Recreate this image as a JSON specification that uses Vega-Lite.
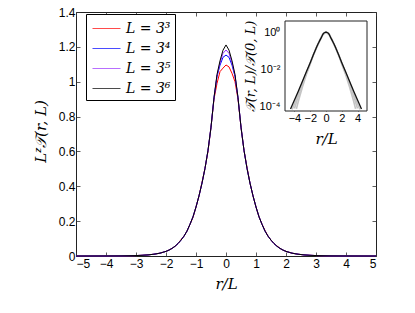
{
"$schema": "https://vega.github.io/schema/vega-lite/v6.json",
"width": 300, "height": 244,
"autosize": {"type": "none"},
"padding": {"left": 76, "top": 12, "right": 39, "bottom": 57},
"background": "white",
"config": {
 "view": {"stroke": "#222", "strokeWidth": 1},
 "axis": {"grid": false, "domain": false, "labelFont": "Liberation Sans", "labelFontSize": 12, "labelColor": "black", "tickColor": "#333", "tickWidth": 0.8, "titleFont": "DejaVu Serif", "titleFontStyle": "italic", "titleFontWeight": "normal", "titleFontSize": 15, "titleColor": "black"},
 "legend": {"labelFont": "DejaVu Serif", "labelFontStyle": "italic", "labelFontSize": 14, "labelColor": "black"}
},
"datasets": {
 "main": [
  {"L":"3³","r":-5,"v":0},{"L":"3³","r":-4.5,"v":0.0001},{"L":"3³","r":-4,"v":0.0003},{"L":"3³","r":-3.5,"v":0.0008},{"L":"3³","r":-3,"v":0.0025},{"L":"3³","r":-2.8,"v":0.004},{"L":"3³","r":-2.6,"v":0.0064},{"L":"3³","r":-2.4,"v":0.0103},{"L":"3³","r":-2.2,"v":0.0163},{"L":"3³","r":-2,"v":0.0266},{"L":"3³","r":-1.9,"v":0.0339},{"L":"3³","r":-1.8,"v":0.0436},{"L":"3³","r":-1.7,"v":0.0557},{"L":"3³","r":-1.6,"v":0.0714},{"L":"3³","r":-1.5,"v":0.094},{"L":"3³","r":-1.4,"v":0.114},{"L":"3³","r":-1.3,"v":0.143},{"L":"3³","r":-1.2,"v":0.182},{"L":"3³","r":-1.1,"v":0.221},{"L":"3³","r":-1,"v":0.281},{"L":"3³","r":-0.9,"v":0.345},{"L":"3³","r":-0.8,"v":0.423},{"L":"3³","r":-0.7,"v":0.503},{"L":"3³","r":-0.6,"v":0.6},{"L":"3³","r":-0.5,"v":0.739},{"L":"3³","r":-0.4,"v":0.9},{"L":"3³","r":-0.3,"v":0.99},{"L":"3³","r":-0.2,"v":1.058},{"L":"3³","r":-0.1,"v":1.078},{"L":"3³","r":0,"v":1.096},{"L":"3³","r":0.1,"v":1.085},{"L":"3³","r":0.2,"v":1.048},{"L":"3³","r":0.3,"v":1.0},{"L":"3³","r":0.4,"v":0.9},{"L":"3³","r":0.5,"v":0.739},{"L":"3³","r":0.6,"v":0.606},{"L":"3³","r":0.7,"v":0.509},{"L":"3³","r":0.8,"v":0.418},{"L":"3³","r":0.9,"v":0.345},{"L":"3³","r":1,"v":0.281},{"L":"3³","r":1.1,"v":0.225},{"L":"3³","r":1.2,"v":0.182},{"L":"3³","r":1.3,"v":0.147},{"L":"3³","r":1.4,"v":0.114},{"L":"3³","r":1.5,"v":0.091},{"L":"3³","r":1.6,"v":0.0714},{"L":"3³","r":1.7,"v":0.058},{"L":"3³","r":1.8,"v":0.0436},{"L":"3³","r":1.9,"v":0.0339},{"L":"3³","r":2,"v":0.0266},{"L":"3³","r":2.2,"v":0.0163},{"L":"3³","r":2.4,"v":0.0103},{"L":"3³","r":2.6,"v":0.0064},{"L":"3³","r":2.8,"v":0.004},{"L":"3³","r":3,"v":0.0025},{"L":"3³","r":3.5,"v":0.0008},{"L":"3³","r":4,"v":0.0003},{"L":"3³","r":4.5,"v":0.0001},{"L":"3³","r":5,"v":0},
  {"L":"3⁴","r":-5,"v":0},{"L":"3⁴","r":-4.5,"v":0.0001},{"L":"3⁴","r":-4,"v":0.0003},{"L":"3⁴","r":-3.5,"v":0.0008},{"L":"3⁴","r":-3,"v":0.0025},{"L":"3⁴","r":-2.8,"v":0.004},{"L":"3⁴","r":-2.6,"v":0.0064},{"L":"3⁴","r":-2.4,"v":0.0103},{"L":"3⁴","r":-2.2,"v":0.0163},{"L":"3⁴","r":-2,"v":0.0266},{"L":"3⁴","r":-1.9,"v":0.0339},{"L":"3⁴","r":-1.8,"v":0.0436},{"L":"3⁴","r":-1.7,"v":0.0557},{"L":"3⁴","r":-1.6,"v":0.0714},{"L":"3⁴","r":-1.5,"v":0.091},{"L":"3⁴","r":-1.4,"v":0.114},{"L":"3⁴","r":-1.3,"v":0.143},{"L":"3⁴","r":-1.2,"v":0.182},{"L":"3⁴","r":-1.1,"v":0.225},{"L":"3⁴","r":-1,"v":0.281},{"L":"3⁴","r":-0.9,"v":0.345},{"L":"3⁴","r":-0.8,"v":0.418},{"L":"3⁴","r":-0.7,"v":0.503},{"L":"3⁴","r":-0.6,"v":0.606},{"L":"3⁴","r":-0.5,"v":0.739},{"L":"3⁴","r":-0.4,"v":0.908},{"L":"3⁴","r":-0.3,"v":1.03},{"L":"3⁴","r":-0.2,"v":1.095},{"L":"3⁴","r":-0.1,"v":1.14},{"L":"3⁴","r":0,"v":1.153},{"L":"3⁴","r":0.1,"v":1.14},{"L":"3⁴","r":0.2,"v":1.095},{"L":"3⁴","r":0.3,"v":1.03},{"L":"3⁴","r":0.4,"v":0.908},{"L":"3⁴","r":0.5,"v":0.739},{"L":"3⁴","r":0.6,"v":0.606},{"L":"3⁴","r":0.7,"v":0.503},{"L":"3⁴","r":0.8,"v":0.418},{"L":"3⁴","r":0.9,"v":0.345},{"L":"3⁴","r":1,"v":0.281},{"L":"3⁴","r":1.1,"v":0.225},{"L":"3⁴","r":1.2,"v":0.182},{"L":"3⁴","r":1.3,"v":0.143},{"L":"3⁴","r":1.4,"v":0.114},{"L":"3⁴","r":1.5,"v":0.091},{"L":"3⁴","r":1.6,"v":0.0714},{"L":"3⁴","r":1.7,"v":0.0557},{"L":"3⁴","r":1.8,"v":0.0436},{"L":"3⁴","r":1.9,"v":0.0339},{"L":"3⁴","r":2,"v":0.0266},{"L":"3⁴","r":2.2,"v":0.0163},{"L":"3⁴","r":2.4,"v":0.0103},{"L":"3⁴","r":2.6,"v":0.0064},{"L":"3⁴","r":2.8,"v":0.004},{"L":"3⁴","r":3,"v":0.0025},{"L":"3⁴","r":3.5,"v":0.0008},{"L":"3⁴","r":4,"v":0.0003},{"L":"3⁴","r":4.5,"v":0.0001},{"L":"3⁴","r":5,"v":0},
  {"L":"3⁵","r":-5,"v":0},{"L":"3⁵","r":-4.5,"v":0.0001},{"L":"3⁵","r":-4,"v":0.0003},{"L":"3⁵","r":-3.5,"v":0.0008},{"L":"3⁵","r":-3,"v":0.0025},{"L":"3⁵","r":-2.8,"v":0.004},{"L":"3⁵","r":-2.6,"v":0.0064},{"L":"3⁵","r":-2.4,"v":0.0103},{"L":"3⁵","r":-2.2,"v":0.0163},{"L":"3⁵","r":-2,"v":0.0266},{"L":"3⁵","r":-1.9,"v":0.0339},{"L":"3⁵","r":-1.8,"v":0.0436},{"L":"3⁵","r":-1.7,"v":0.0557},{"L":"3⁵","r":-1.6,"v":0.0714},{"L":"3⁵","r":-1.5,"v":0.091},{"L":"3⁵","r":-1.4,"v":0.114},{"L":"3⁵","r":-1.3,"v":0.143},{"L":"3⁵","r":-1.2,"v":0.182},{"L":"3⁵","r":-1.1,"v":0.225},{"L":"3⁵","r":-1,"v":0.281},{"L":"3⁵","r":-0.9,"v":0.345},{"L":"3⁵","r":-0.8,"v":0.418},{"L":"3⁵","r":-0.7,"v":0.503},{"L":"3⁵","r":-0.6,"v":0.606},{"L":"3⁵","r":-0.5,"v":0.739},{"L":"3⁵","r":-0.4,"v":0.908},{"L":"3⁵","r":-0.3,"v":1.036},{"L":"3⁵","r":-0.2,"v":1.108},{"L":"3⁵","r":-0.1,"v":1.163},{"L":"3⁵","r":0,"v":1.182},{"L":"3⁵","r":0.1,"v":1.163},{"L":"3⁵","r":0.2,"v":1.108},{"L":"3⁵","r":0.3,"v":1.036},{"L":"3⁵","r":0.4,"v":0.908},{"L":"3⁵","r":0.5,"v":0.739},{"L":"3⁵","r":0.6,"v":0.606},{"L":"3⁵","r":0.7,"v":0.503},{"L":"3⁵","r":0.8,"v":0.418},{"L":"3⁵","r":0.9,"v":0.345},{"L":"3⁵","r":1,"v":0.281},{"L":"3⁵","r":1.1,"v":0.225},{"L":"3⁵","r":1.2,"v":0.182},{"L":"3⁵","r":1.3,"v":0.143},{"L":"3⁵","r":1.4,"v":0.114},{"L":"3⁵","r":1.5,"v":0.091},{"L":"3⁵","r":1.6,"v":0.0714},{"L":"3⁵","r":1.7,"v":0.0557},{"L":"3⁵","r":1.8,"v":0.0436},{"L":"3⁵","r":1.9,"v":0.0339},{"L":"3⁵","r":2,"v":0.0266},{"L":"3⁵","r":2.2,"v":0.0163},{"L":"3⁵","r":2.4,"v":0.0103},{"L":"3⁵","r":2.6,"v":0.0064},{"L":"3⁵","r":2.8,"v":0.004},{"L":"3⁵","r":3,"v":0.0025},{"L":"3⁵","r":3.5,"v":0.0008},{"L":"3⁵","r":4,"v":0.0003},{"L":"3⁵","r":4.5,"v":0.0001},{"L":"3⁵","r":5,"v":0},
  {"L":"3⁶","r":-5,"v":0},{"L":"3⁶","r":-4.5,"v":0.0001},{"L":"3⁶","r":-4,"v":0.0003},{"L":"3⁶","r":-3.5,"v":0.0008},{"L":"3⁶","r":-3,"v":0.0025},{"L":"3⁶","r":-2.8,"v":0.004},{"L":"3⁶","r":-2.6,"v":0.0064},{"L":"3⁶","r":-2.4,"v":0.0103},{"L":"3⁶","r":-2.2,"v":0.0163},{"L":"3⁶","r":-2,"v":0.0266},{"L":"3⁶","r":-1.9,"v":0.0339},{"L":"3⁶","r":-1.8,"v":0.0436},{"L":"3⁶","r":-1.7,"v":0.0557},{"L":"3⁶","r":-1.6,"v":0.0714},{"L":"3⁶","r":-1.5,"v":0.091},{"L":"3⁶","r":-1.4,"v":0.114},{"L":"3⁶","r":-1.3,"v":0.143},{"L":"3⁶","r":-1.2,"v":0.182},{"L":"3⁶","r":-1.1,"v":0.225},{"L":"3⁶","r":-1,"v":0.281},{"L":"3⁶","r":-0.9,"v":0.345},{"L":"3⁶","r":-0.8,"v":0.418},{"L":"3⁶","r":-0.7,"v":0.503},{"L":"3⁶","r":-0.6,"v":0.606},{"L":"3⁶","r":-0.5,"v":0.739},{"L":"3⁶","r":-0.4,"v":0.908},{"L":"3⁶","r":-0.3,"v":1.041},{"L":"3⁶","r":-0.2,"v":1.12},{"L":"3⁶","r":-0.1,"v":1.181},{"L":"3⁶","r":0,"v":1.211},{"L":"3⁶","r":0.1,"v":1.181},{"L":"3⁶","r":0.2,"v":1.12},{"L":"3⁶","r":0.3,"v":1.041},{"L":"3⁶","r":0.4,"v":0.908},{"L":"3⁶","r":0.5,"v":0.739},{"L":"3⁶","r":0.6,"v":0.606},{"L":"3⁶","r":0.7,"v":0.503},{"L":"3⁶","r":0.8,"v":0.418},{"L":"3⁶","r":0.9,"v":0.345},{"L":"3⁶","r":1,"v":0.281},{"L":"3⁶","r":1.1,"v":0.225},{"L":"3⁶","r":1.2,"v":0.182},{"L":"3⁶","r":1.3,"v":0.143},{"L":"3⁶","r":1.4,"v":0.114},{"L":"3⁶","r":1.5,"v":0.091},{"L":"3⁶","r":1.6,"v":0.0714},{"L":"3⁶","r":1.7,"v":0.0557},{"L":"3⁶","r":1.8,"v":0.0436},{"L":"3⁶","r":1.9,"v":0.0339},{"L":"3⁶","r":2,"v":0.0266},{"L":"3⁶","r":2.2,"v":0.0163},{"L":"3⁶","r":2.4,"v":0.0103},{"L":"3⁶","r":2.6,"v":0.0064},{"L":"3⁶","r":2.8,"v":0.004},{"L":"3⁶","r":3,"v":0.0025},{"L":"3⁶","r":3.5,"v":0.0008},{"L":"3⁶","r":4,"v":0.0003},{"L":"3⁶","r":4.5,"v":0.0001},{"L":"3⁶","r":5,"v":0}
 ],
 "insetBlack": [
  {"r":-4.5,"ratio":0.00007},{"r":-4,"ratio":0.00021},{"r":-3.5,"ratio":0.00066},{"r":-3,"ratio":0.0021},{"r":-2.5,"ratio":0.0069},{"r":-2,"ratio":0.022},{"r":-1.8,"ratio":0.036},{"r":-1.6,"ratio":0.059},{"r":-1.4,"ratio":0.094},{"r":-1.2,"ratio":0.15},{"r":-1,"ratio":0.232},{"r":-0.9,"ratio":0.285},{"r":-0.8,"ratio":0.345},{"r":-0.7,"ratio":0.415},{"r":-0.6,"ratio":0.5},{"r":-0.5,"ratio":0.61},{"r":-0.4,"ratio":0.75},{"r":-0.3,"ratio":0.86},{"r":-0.2,"ratio":0.925},{"r":-0.1,"ratio":0.975},{"r":0,"ratio":1},{"r":0.1,"ratio":0.975},{"r":0.2,"ratio":0.925},{"r":0.3,"ratio":0.86},{"r":0.4,"ratio":0.75},{"r":0.5,"ratio":0.61},{"r":0.6,"ratio":0.5},{"r":0.7,"ratio":0.415},{"r":0.8,"ratio":0.345},{"r":0.9,"ratio":0.285},{"r":1,"ratio":0.232},{"r":1.2,"ratio":0.15},{"r":1.4,"ratio":0.094},{"r":1.6,"ratio":0.059},{"r":1.8,"ratio":0.036},{"r":2,"ratio":0.022},{"r":2.5,"ratio":0.0069},{"r":3,"ratio":0.0021},{"r":3.5,"ratio":0.00066},{"r":4,"ratio":0.00021},{"r":4.5,"ratio":0.00007}
 ],
 "insetGray": [
  {"L":"3⁵","r":-4.3,"ratio":0.000066},{"L":"3⁵","r":-4,"ratio":0.000132},{"L":"3⁵","r":-3.5,"ratio":0.0005},{"L":"3⁵","r":-3,"ratio":0.00179},{"L":"3⁵","r":-2.5,"ratio":0.00646},{"L":"3⁵","r":-2,"ratio":0.022},{"L":"3⁵","r":-1.6,"ratio":0.059},{"L":"3⁵","r":-1.2,"ratio":0.15},{"L":"3⁵","r":-0.8,"ratio":0.345},{"L":"3⁵","r":-0.4,"ratio":0.75},{"L":"3⁵","r":0,"ratio":1},{"L":"3⁵","r":0.4,"ratio":0.75},{"L":"3⁵","r":0.8,"ratio":0.345},{"L":"3⁵","r":1.2,"ratio":0.15},{"L":"3⁵","r":1.6,"ratio":0.059},{"L":"3⁵","r":2,"ratio":0.022},{"L":"3⁵","r":2.5,"ratio":0.00646},{"L":"3⁵","r":3,"ratio":0.00179},{"L":"3⁵","r":3.5,"ratio":0.0005},{"L":"3⁵","r":4,"ratio":0.000132},{"L":"3⁵","r":4.3,"ratio":0.000066},
  {"L":"3⁴","r":-4,"ratio":0.000074},{"L":"3⁴","r":-3.5,"ratio":0.000355},{"L":"3⁴","r":-3,"ratio":0.00149},{"L":"3⁴","r":-2.5,"ratio":0.00575},{"L":"3⁴","r":-2,"ratio":0.0205},{"L":"3⁴","r":-1.8,"ratio":0.035},{"L":"3⁴","r":-1.6,"ratio":0.059},{"L":"3⁴","r":-1.2,"ratio":0.15},{"L":"3⁴","r":-0.8,"ratio":0.345},{"L":"3⁴","r":-0.4,"ratio":0.75},{"L":"3⁴","r":0,"ratio":1},{"L":"3⁴","r":0.4,"ratio":0.75},{"L":"3⁴","r":0.8,"ratio":0.345},{"L":"3⁴","r":1.2,"ratio":0.15},{"L":"3⁴","r":1.6,"ratio":0.059},{"L":"3⁴","r":1.8,"ratio":0.035},{"L":"3⁴","r":2,"ratio":0.0205},{"L":"3⁴","r":2.5,"ratio":0.00575},{"L":"3⁴","r":3,"ratio":0.00149},{"L":"3⁴","r":3.5,"ratio":0.000355},{"L":"3⁴","r":4,"ratio":0.000074},
  {"L":"3³","r":-3.75,"ratio":0.00007},{"L":"3³","r":-3.5,"ratio":0.000186},{"L":"3³","r":-3,"ratio":0.00105},{"L":"3³","r":-2.5,"ratio":0.0049},{"L":"3³","r":-2,"ratio":0.0191},{"L":"3³","r":-1.8,"ratio":0.0336},{"L":"3³","r":-1.6,"ratio":0.058},{"L":"3³","r":-1.2,"ratio":0.15},{"L":"3³","r":-0.8,"ratio":0.345},{"L":"3³","r":-0.4,"ratio":0.75},{"L":"3³","r":0,"ratio":1},{"L":"3³","r":0.4,"ratio":0.75},{"L":"3³","r":0.8,"ratio":0.345},{"L":"3³","r":1.2,"ratio":0.15},{"L":"3³","r":1.6,"ratio":0.058},{"L":"3³","r":1.8,"ratio":0.0336},{"L":"3³","r":2,"ratio":0.0191},{"L":"3³","r":2.5,"ratio":0.0049},{"L":"3³","r":3,"ratio":0.00105},{"L":"3³","r":3.5,"ratio":0.000186},{"L":"3³","r":3.75,"ratio":0.00007}
 ],
 "frame": [{"r": -5.2, "r2": 5.2, "ratio": 0.000054, "ratio2": 3.98}],
 "dummy": [{"r": 0, "v": 0}]
},
"layer": [
 {
  "data": {"name": "main"},
  "mark": {"type": "line", "strokeWidth": 1},
  "encoding": {
   "x": {"field": "r", "type": "quantitative", "scale": {"domain": [-5, 5], "nice": false, "zero": false},
         "axis": {"orient": "bottom", "values": [-5,-4,-3,-2,-1,0,1,2,3,4,5], "tickSize": -4, "labelPadding": 6, "title": "r/L", "titleX": 150, "titleY": 27, "titleBaseline": "middle"}},
   "y": {"field": "v", "type": "quantitative", "scale": {"domain": [0, 1.4], "nice": false},
         "axis": {"orient": "left", "values": [0,0.2,0.4,0.6,0.8,1,1.2,1.4], "format": "~g", "tickSize": -4, "labelPadding": 5, "title": "Lᶻ𝒯(r, L)", "titleX": -36, "titleY": 119, "titleBaseline": "middle"}},
   "color": {"field": "L", "type": "nominal",
             "scale": {"domain": ["3³","3⁴","3⁵","3⁶"], "range": ["#ff0000","#0000ff","#9933ff","#000000"]},
             "legend": {"orient": "none", "legendX": 10, "legendY": 2, "title": null, "labelExpr": "'L = ' + datum.label", "padding": 4, "strokeColor": "black", "fillColor": "white", "symbolType": "M-0.8,0H2", "symbolSize": 400, "symbolStrokeWidth": 1, "symbolOpacity": 0.7, "labelOffset": 15, "rowPadding": 2}}
  }
 },
 {
  "data": {"name": "dummy"},
  "mark": {"type": "point", "opacity": 0},
  "encoding": {
   "x": {"field": "r", "type": "quantitative", "scale": {"domain": [-5, 5], "nice": false, "zero": false},
         "axis": {"orient": "top", "values": [-5,-4,-3,-2,-1,0,1,2,3,4,5], "labels": false, "tickSize": -4, "title": null}},
   "y": {"field": "v", "type": "quantitative", "scale": {"domain": [0, 1.4], "nice": false},
         "axis": {"orient": "right", "values": [0,0.2,0.4,0.6,0.8,1,1.2,1.4], "labels": false, "tickSize": -4, "title": null}}
  }
 },
 {
  "layer": [
   {
    "data": {"name": "frame"},
    "mark": {"type": "rect", "fill": "white", "stroke": "#222", "strokeWidth": 1},
    "encoding": {
     "x": {"field": "r", "type": "quantitative", "scale": {"domain": [-5.2, 5.2], "range": [209, 291], "nice": false, "zero": false},
           "axis": {"orient": "bottom", "offset": -145, "values": [-4,-2,0,2,4], "tickSize": -2, "labelFontSize": 11, "labelPadding": 3, "title": "r/L", "titleX": 250, "titleY": 27, "titleBaseline": "middle"}},
     "x2": {"field": "r2"},
     "y": {"field": "ratio", "type": "quantitative", "scale": {"type": "log", "domain": [0.000054, 3.98], "range": [99, 9], "nice": false},
           "axis": {"orient": "left", "offset": -209, "values": [1, 0.01, 0.0001], "labelExpr": "datum.value >= 0.5 ? '10⁰' : (datum.value >= 0.005 ? '10⁻²' : '10⁻⁴')", "tickSize": -2, "labelFontSize": 11, "labelPadding": 7, "title": "𝒯(r, L)/𝒯(0, L)", "titleFontSize": 13, "titleX": -35, "titleY": 54, "titleBaseline": "middle"}},
     "y2": {"field": "ratio2"}
    }
   },
   {
    "data": {"name": "insetGray"},
    "mark": {"type": "line", "color": "#c4c4c4", "strokeWidth": 1.6},
    "encoding": {
     "x": {"field": "r", "type": "quantitative", "scale": {"domain": [-5.2, 5.2], "range": [209, 291], "nice": false, "zero": false},
           "axis": {"orient": "bottom", "offset": -145, "values": [-4,-2,0,2,4], "tickSize": -2, "labelFontSize": 11, "labelPadding": 3, "title": "r/L", "titleX": 250, "titleY": 27, "titleBaseline": "middle"}},
     "y": {"field": "ratio", "type": "quantitative", "scale": {"type": "log", "domain": [0.000054, 3.98], "range": [99, 9], "nice": false},
           "axis": {"orient": "left", "offset": -209, "values": [1, 0.01, 0.0001], "labelExpr": "datum.value >= 0.5 ? '10⁰' : (datum.value >= 0.005 ? '10⁻²' : '10⁻⁴')", "tickSize": -2, "labelFontSize": 11, "labelPadding": 7, "title": "𝒯(r, L)/𝒯(0, L)", "titleFontSize": 13, "titleX": -35, "titleY": 54, "titleBaseline": "middle"}},
     "detail": {"field": "L", "type": "nominal"}
    }
   },
   {
    "data": {"name": "insetBlack"},
    "mark": {"type": "line", "color": "#111111", "strokeWidth": 1.3},
    "encoding": {
     "x": {"field": "r", "type": "quantitative", "scale": {"domain": [-5.2, 5.2], "range": [209, 291], "nice": false, "zero": false},
           "axis": {"orient": "bottom", "offset": -145, "values": [-4,-2,0,2,4], "tickSize": -2, "labelFontSize": 11, "labelPadding": 3, "title": "r/L", "titleX": 250, "titleY": 27, "titleBaseline": "middle"}},
     "y": {"field": "ratio", "type": "quantitative", "scale": {"type": "log", "domain": [0.000054, 3.98], "range": [99, 9], "nice": false},
           "axis": {"orient": "left", "offset": -209, "values": [1, 0.01, 0.0001], "labelExpr": "datum.value >= 0.5 ? '10⁰' : (datum.value >= 0.005 ? '10⁻²' : '10⁻⁴')", "tickSize": -2, "labelFontSize": 11, "labelPadding": 7, "title": "𝒯(r, L)/𝒯(0, L)", "titleFontSize": 13, "titleX": -35, "titleY": 54, "titleBaseline": "middle"}}
    }
   }
  ]
 }
],
"resolve": {"scale": {"x": "independent", "y": "independent"}, "axis": {"x": "independent", "y": "independent"}}
}
